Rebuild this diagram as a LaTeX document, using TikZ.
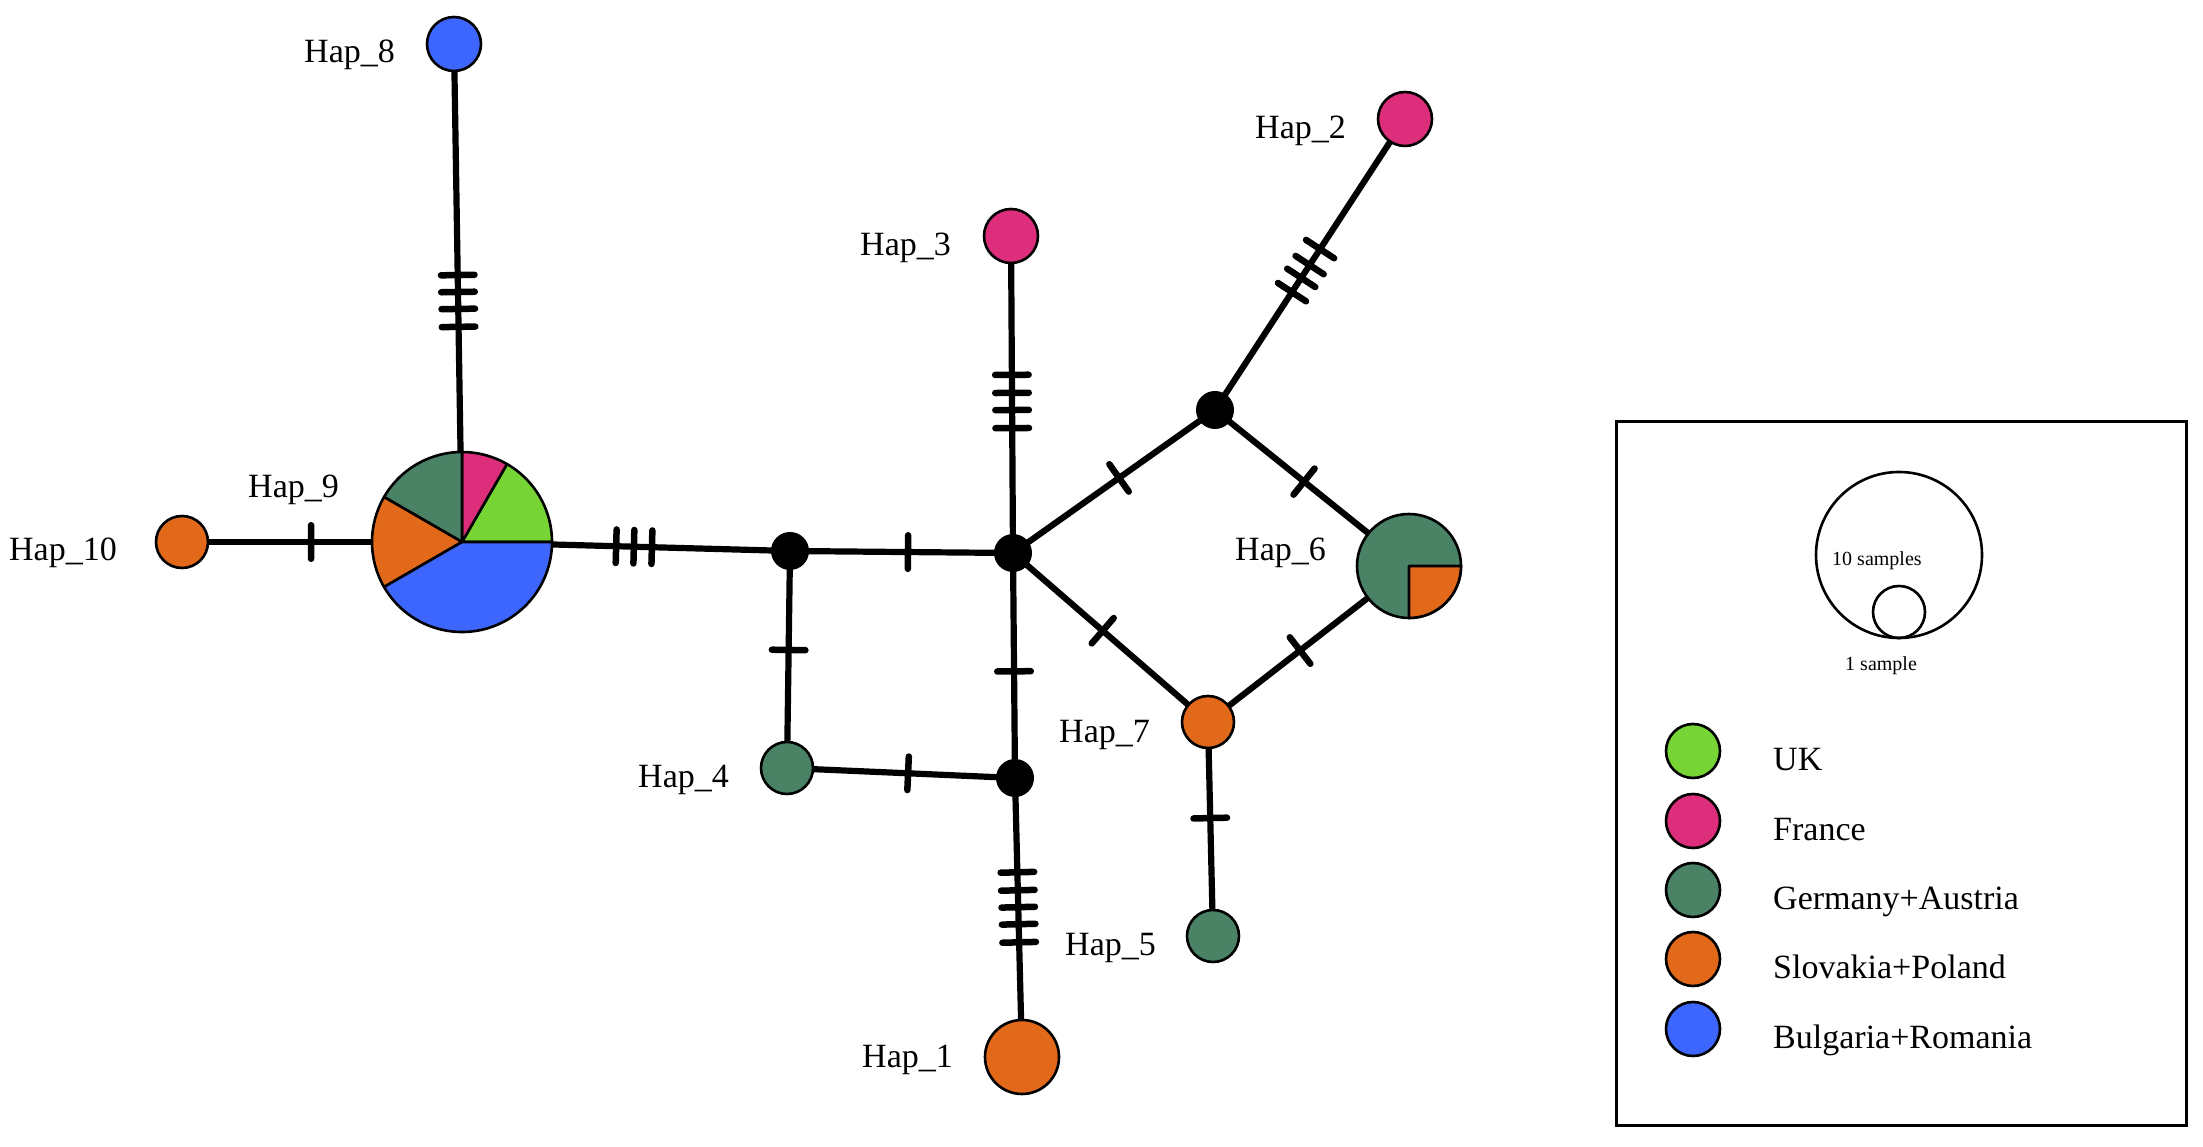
\documentclass[tikz,border=0pt]{standalone}
\usepackage{fontspec}
\setmainfont{Liberation Serif}
\usetikzlibrary{backgrounds}
\definecolor{cUK}{RGB}{118,212,52}
\definecolor{cFR}{RGB}{221,46,124}
\definecolor{cGA}{RGB}{74,130,102}
\definecolor{cSP}{RGB}{226,105,26}
\definecolor{cBR}{RGB}{61,102,255}
\begin{document}
\begin{tikzpicture}[x=1pt,y=1pt,
 hap/.style={circle, draw=black, line width=2.6pt, inner sep=0pt, minimum size=#1},
 med/.style={circle, fill=black, inner sep=0pt, minimum size=38pt},
 edge/.style={line width=6.2pt},
 tk/.style={sloped, fill=black, inner sep=0pt, minimum width=6.5pt, minimum height=40pt, rounded corners=3.2pt},
 lab/.style={font=\fontsize{34}{40}\selectfont, anchor=base west, inner sep=0pt},
 leglab/.style={font=\fontsize{34}{40}\selectfont, anchor=base west, inner sep=0pt},
 smalltxt/.style={font=\fontsize{20}{24}\selectfont, anchor=base west, inner sep=0pt},
 slice/.style={draw=black, line width=2.6pt, line join=round}
]
\useasboundingbox (0,0) rectangle (2203,1146);

% haplotype and median nodes
\node[hap=54pt, fill=cBR] (H8) at (454,1102) {};
\node[circle, inner sep=0pt, minimum size=180pt] (H9) at (462,604) {};
\node[hap=52pt, fill=cSP] (H10) at (182,604) {};
\node[med] (B) at (790,595) {};
\node[med] (C) at (1013,593) {};
\node[hap=54pt, fill=cFR] (H3) at (1011,910) {};
\node[med] (N) at (1215,736) {};
\node[hap=54pt, fill=cFR] (H2) at (1405,1027) {};
\node[hap=104pt, fill=cGA] (H6) at (1409,580) {};
\node[hap=52pt, fill=cSP] (H7) at (1208,424) {};
\node[hap=52pt, fill=cGA] (H5) at (1213,210) {};
\node[med] (D) at (1015,368) {};
\node[hap=52pt, fill=cGA] (H4) at (787,378) {};
\node[hap=74pt, fill=cSP] (H1) at (1022,89) {};

% pie for Hap_9
\foreach \a/\b/\c in {0/60/cUK, 60/90/cFR, 90/150/cGA, 150/210/cSP, 210/360/cBR}
  \draw[slice, fill=\c] (H9.center) -- ++(\a:90pt) arc[start angle=\a, end angle=\b, radius=90pt] -- cycle;
% Hap_6 quadrant
\draw[slice, fill=cSP] (H6.center) -- ++(0:52pt) arc[start angle=0, end angle=-90, radius=52pt] -- cycle;

\begin{pgfonlayer}{background}
\draw[edge] (H8.center) -- (H9.center)
  node[tk,pos=0.464]{} node[tk,pos=0.498]{} node[tk,pos=0.532]{} node[tk,pos=0.568]{};
\draw[edge] (H10.center) -- (H9.center) node[tk,pos=0.461]{};
\draw[edge] (H9.center) -- (B.center)
  node[tk,pos=0.470]{} node[tk,pos=0.524]{} node[tk,pos=0.579]{};
\draw[edge] (B.center) -- (C.center) node[tk,pos=0.529]{};
\draw[edge] (C.center) -- (H3.center)
  node[tk,pos=0.394]{} node[tk,pos=0.451]{} node[tk,pos=0.505]{} node[tk,pos=0.562]{};
\draw[edge] (N.center) -- (H2.center)
  node[tk,pos=0.405]{} node[tk,pos=0.454]{} node[tk,pos=0.498]{} node[tk,pos=0.553]{};
\draw[edge] (C.center) -- (N.center) node[tk,pos=0.525]{};
\draw[edge] (N.center) -- (H6.center) node[tk,pos=0.459]{};
\draw[edge] (C.center) -- (H7.center) node[tk,pos=0.46]{};
\draw[edge] (H7.center) -- (H6.center) node[tk,pos=0.458]{};
\draw[edge] (H7.center) -- (H5.center) node[tk,pos=0.449]{};
\draw[edge] (C.center) -- (D.center) node[tk,pos=0.526]{};
\draw[edge] (B.center) -- (H4.center) node[tk,pos=0.456]{};
\draw[edge] (H4.center) -- (D.center) node[tk,pos=0.531]{};
\draw[edge] (D.center) -- (H1.center)
  node[tk,pos=0.338]{} node[tk,pos=0.4025]{} node[tk,pos=0.463]{} node[tk,pos=0.524]{} node[tk,pos=0.589]{};
\end{pgfonlayer}

% labels
\node[lab] (L8) at (304,1083) {Hap\_8};
\node[lab] (L9) at (248,648.5) {Hap\_9};
\node[lab] (L10) at (9,585.4) {Hap\_10};
\node[lab] (L3) at (860,890) {Hap\_3};
\node[lab] (L2) at (1255,1007) {Hap\_2};
\node[lab] (L6) at (1235,585) {Hap\_6};
\node[lab] (L4) at (638,358) {Hap\_4};
\node[lab] (L7) at (1059,403) {Hap\_7};
\node[lab] (L5) at (1065,190) {Hap\_5};
\node[lab] (L1) at (862,79) {Hap\_1};

% legend
\node[draw, line width=3pt, minimum width=570pt, minimum height=703pt, inner sep=0pt] (LG) at (1901,372.5) {};
\node[circle, draw, line width=2.6pt, minimum size=166pt, inner sep=0pt] (Big) at (1899,591) {};
\node[circle, draw, line width=2.6pt, minimum size=52pt, inner sep=0pt] (Small) at (1899,534) {};
\node[smalltxt] (T10) at (1832,580) {10 samples};
\node[smalltxt] (T1) at (1845,475) {1 sample};
\foreach \y/\c/\t [count=\i] in {395/cUK/UK, 325/cFR/France, 256/cGA/Germany+Austria, 187/cSP/Slovakia+Poland, 117/cBR/Bulgaria+Romania} {
  \node[hap=54pt, fill=\c] (LC\i) at (1693,\y) {};
  \node[leglab] (LT\i) at (1773,\y-20) {\t};
}
\end{tikzpicture}
\end{document}
